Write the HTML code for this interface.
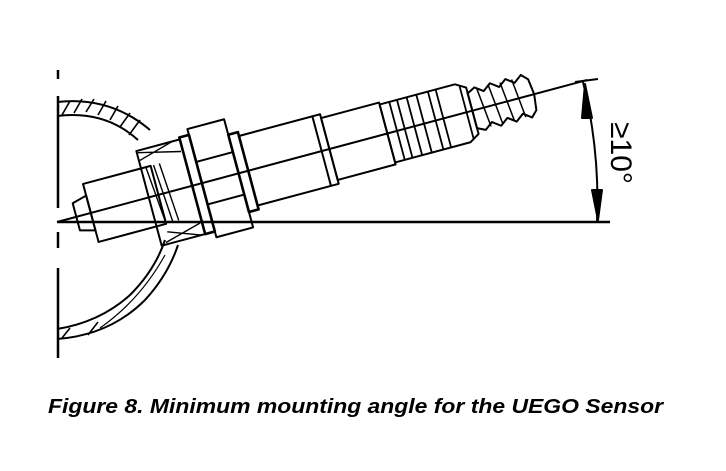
<!DOCTYPE html>
<html><head><meta charset="utf-8"><style>
html,body{margin:0;padding:0;background:#fff;}
svg{display:block;}
</style></head><body>
<svg width="726" height="471" viewBox="0 0 726 471" xmlns="http://www.w3.org/2000/svg">
<rect width="726" height="471" fill="#fff"/>
<g stroke="#000" fill="none" stroke-width="2" stroke-linejoin="round">
<!-- vertical centre line -->
<line x1="58" y1="70" x2="58" y2="79" stroke-width="2.5"/>
<line x1="58" y1="96" x2="58" y2="208" stroke-width="2.5"/>
<line x1="58" y1="232" x2="58" y2="248" stroke-width="2.5"/>
<line x1="58" y1="268" x2="58" y2="358" stroke-width="2.5"/>
<!-- horizontal base -->
<line x1="57" y1="222" x2="610" y2="222" stroke-width="2.5"/>
<!-- upper pipe wall -->
<path d="M57,102 Q110,96 150,130"/>
<path d="M57,116 Q105,110 138,140"/>
<g stroke-width="1.6">
<line x1="62" y1="115" x2="70" y2="101"/><line x1="74" y1="113" x2="82" y2="99"/>
<line x1="86" y1="112" x2="94" y2="99"/><line x1="98" y1="115" x2="106" y2="101"/>
<line x1="110" y1="120" x2="118" y2="106"/><line x1="120" y1="127" x2="130" y2="113"/>
<line x1="129" y1="135" x2="140" y2="120"/>
</g>
<!-- lower pipe wall -->
<path d="M57,329 Q100,322 130,295 Q155,270 165,240"/>
<path d="M57,339 Q110,335 145,300 Q168,275 178,245"/>
<path d="M100,328 Q140,300 165,255" stroke-width="1.2"/>
<line x1="62" y1="338" x2="70" y2="328" stroke-width="1.6"/>
<line x1="88" y1="335" x2="98" y2="322" stroke-width="1.6"/>
<!-- sensor -->
<g transform="translate(57,222) rotate(-15)">
<line x1="0" y1="0" x2="549" y2="0" stroke-width="2"/>
<!-- tip cap -->
<path d="M20,-14 L35,-18 L35,18 L20,14 Z"/>
<rect x="35" y="-30" width="70" height="60"/>
<!-- weld boss hatched -->
<path d="M95,-48 L140,-48 L140,50 L95,50 Z"/>
<path d="M100,-30 L105,30 M108,-30 L112,30 M114,-30 L118,30" stroke-width="1.4"/>
<path d="M96,-46 L138,-36 M96,-38 L132,-48 M100,48 L138,38 M104,38 L136,50" stroke-width="1.4"/>
<!-- nut -->
<rect x="140" y="-50" width="10" height="100" stroke-width="2.6"/>
<rect x="150" y="-56" width="38" height="112"/>
<line x1="150" y1="-22" x2="188" y2="-22"/>
<line x1="150" y1="22" x2="188" y2="22"/>
<!-- washer -->
<rect x="188" y="-40" width="10" height="80" stroke-width="2.6"/>
<!-- main tube -->
<rect x="198" y="-36" width="84" height="72"/>
<line x1="274" y1="-36" x2="274" y2="36"/>
<rect x="282" y="-32" width="60" height="64"/>
<!-- ribbed -->
<path d="M342,-30 L420,-30 L430,-24 L430,24 L420,30 L342,30 Z"/>
<g stroke-width="1.8">
<line x1="352" y1="-30" x2="352" y2="30"/><line x1="360" y1="-30" x2="360" y2="30"/>
<line x1="370" y1="-30" x2="370" y2="30"/><line x1="380" y1="-30" x2="380" y2="30"/>
<line x1="392" y1="-30" x2="392" y2="30"/><line x1="400" y1="-30" x2="400" y2="30"/>
<line x1="424" y1="-27" x2="424" y2="27"/>
</g>
<!-- spring -->
<path d="M430,-18 L438,-22 L446,-16 L454,-22 L462,-16 L470,-22 L478,-16 L486,-22 L492,-16 L494,0 L492,16 L486,22 L478,16 L470,22 L462,16 L454,22 L446,16 L438,22 L430,18 Z"/>
<g stroke-width="1.5">
<line x1="440" y1="-20" x2="444" y2="20"/><line x1="452" y1="-20" x2="456" y2="20"/>
<line x1="464" y1="-20" x2="468" y2="20"/><line x1="476" y1="-20" x2="480" y2="20"/>
</g>
</g>
<!-- dimension arc -->
<path d="M583,82 Q600,150 597,222" stroke-width="2"/>
<line x1="575" y1="82" x2="598" y2="79" stroke-width="2"/>
<path d="M585,84 L592,118 L582,118 Z" fill="#000"/>
<path d="M598,220 L592,190 L602,190 Z" fill="#000"/>
</g>
<text transform="translate(611,153) rotate(90)" font-family="Liberation Sans, sans-serif" font-size="30" text-anchor="middle" fill="#000">≥10°</text>
<text x="48" y="413" font-family="Liberation Sans, sans-serif" font-size="20" font-weight="bold" font-style="italic" textLength="615" lengthAdjust="spacingAndGlyphs" fill="#000">Figure 8. Minimum mounting angle for the UEGO Sensor</text>
</svg>
</body></html>
